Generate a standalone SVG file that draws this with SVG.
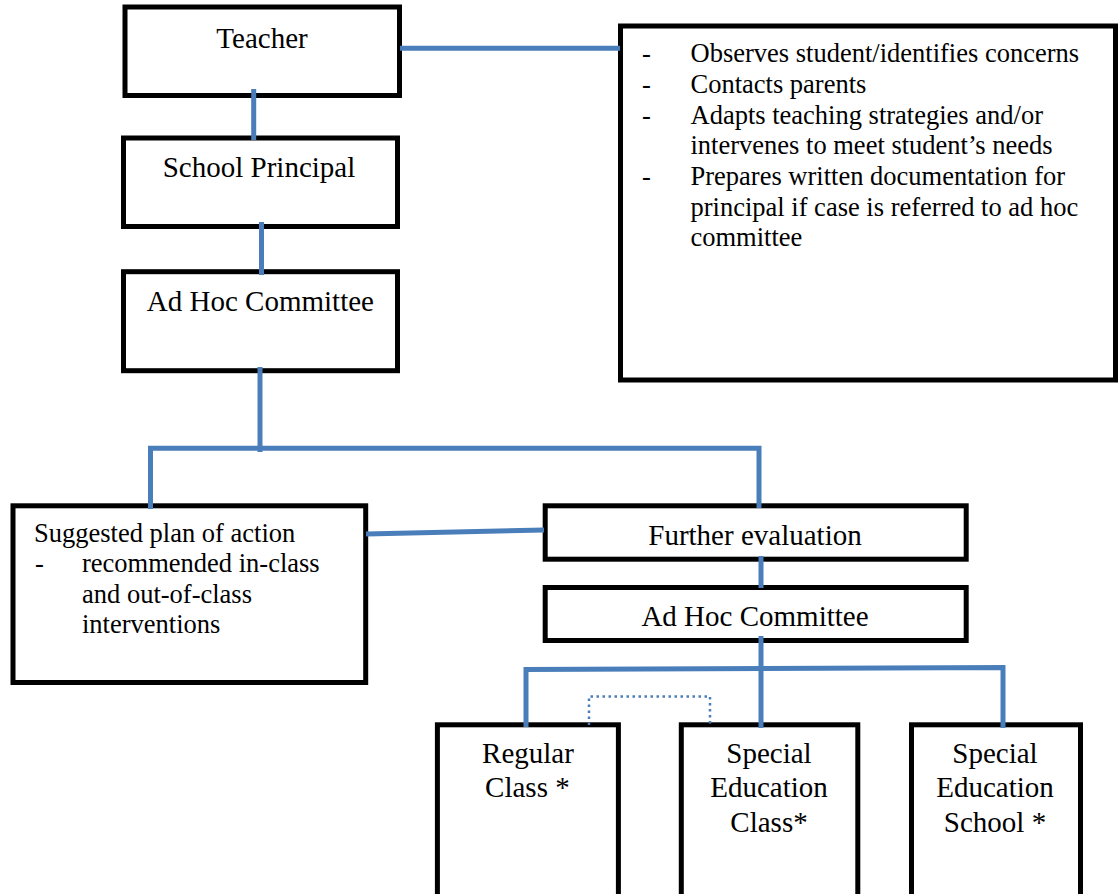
<svg xmlns="http://www.w3.org/2000/svg" width="1118" height="894" viewBox="0 0 1118 894">
<style>
.box{fill:#fff;stroke:#000;stroke-width:5}
.t{font-family:"Liberation Serif","Times New Roman",serif;font-size:29px;fill:#000;text-anchor:middle}
.b{font-family:"Liberation Serif","Times New Roman",serif;font-size:26.5px;fill:#000}
.c{fill:none;stroke:#4a7ebb;stroke-width:5}
.d{fill:none;stroke:#4a7ebb;stroke-width:2.5;stroke-dasharray:2.5 3.5}
</style>
<rect width="1118" height="894" fill="#fff"/>
<g id="teacher">
<rect class="box" x="125" y="7" width="274.5" height="88.5"/>
<text class="t" x="262" y="47.5">Teacher</text>
</g>
<g id="teacher-tasks">
<rect class="box" x="620.5" y="26" width="495" height="354"/>
<text class="b" x="642" y="62.3">-</text>
<text class="b" x="690.5" y="62.3">Observes student/identifies concerns</text>
<text class="b" x="642" y="93">-</text>
<text class="b" x="690.5" y="93">Contacts parents</text>
<text class="b" x="642" y="123.6">-</text>
<text class="b" x="690.5" y="123.6">Adapts teaching strategies and/or</text>
<text class="b" x="690.5" y="154.3">intervenes to meet student’s needs</text>
<text class="b" x="642" y="185">-</text>
<text class="b" x="690.5" y="185">Prepares written documentation for</text>
<text class="b" x="690.5" y="215.7">principal if case is referred to ad hoc</text>
<text class="b" x="690.5" y="246.4">committee</text>
</g>
<g id="principal">
<rect class="box" x="123.5" y="138" width="274" height="88.5"/>
<text class="t" x="259" y="176.7">School Principal</text>
</g>
<g id="adhoc1">
<rect class="box" x="123.5" y="271.7" width="274" height="99"/>
<text class="t" x="260.4" y="311">Ad Hoc Committee</text>
</g>
<g id="plan">
<rect class="box" x="13" y="505.8" width="352.7" height="176.7"/>
<text class="b" x="34" y="541.7">Suggested plan of action</text>
<text class="b" x="35" y="572.3">-</text>
<text class="b" x="82" y="572.3">recommended in-class</text>
<text class="b" x="82" y="602.5">and out-of-class</text>
<text class="b" x="82" y="633.3">interventions</text>
</g>
<g id="further">
<rect class="box" x="545.2" y="505.8" width="421" height="53.4"/>
<text class="t" x="755" y="545">Further evaluation</text>
</g>
<g id="adhoc2">
<rect class="box" x="545.2" y="587.5" width="421" height="53"/>
<text class="t" x="755" y="625.7">Ad Hoc Committee</text>
</g>
<g id="regular">
<rect class="box" x="437.4" y="724.8" width="181" height="190"/>
<text class="t" x="528" y="763.3">Regular</text>
<text class="t" x="527.4" y="797.3">Class *</text>
</g>
<g id="sped-class">
<rect class="box" x="681.3" y="724.8" width="176.5" height="190"/>
<text class="t" x="769" y="763.3">Special</text>
<text class="t" x="769" y="797">Education</text>
<text class="t" x="769" y="831.7">Class*</text>
</g>
<g id="sped-school">
<rect class="box" x="911.5" y="724.8" width="169" height="190"/>
<text class="t" x="995" y="763.3">Special</text>
<text class="t" x="995" y="797">Education</text>
<text class="t" x="995" y="831.7">School *</text>
</g>
<g id="connectors">
<line class="c" x1="400" y1="48.3" x2="620" y2="48.3"/>
<line class="c" x1="253.7" y1="89" x2="253.7" y2="140"/>
<line class="c" x1="261.5" y1="222" x2="261.5" y2="275"/>
<line class="c" x1="260" y1="367" x2="260" y2="452"/>
<polyline class="c" points="150.5,509 150.5,448.2 759,448.2 759,508"/>
<line class="c" x1="366" y1="534" x2="544" y2="530"/>
<line class="c" x1="761" y1="556" x2="761" y2="588"/>
<line class="c" x1="761" y1="636" x2="761" y2="728"/>
<polyline class="c" points="526,727 526,669.5 1003,667.5 1003,728"/>
<polyline class="d" points="589,725 589,696.5 710,696.5 710,725"/>
</g>
</svg>
